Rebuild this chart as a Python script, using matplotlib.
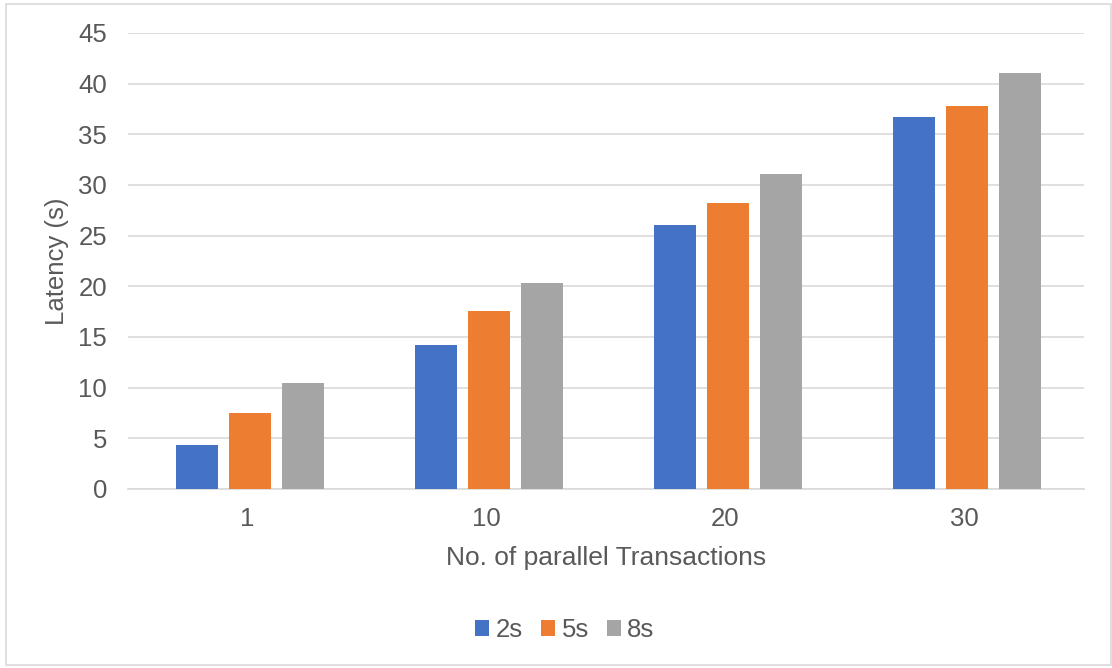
import matplotlib
matplotlib.use("Agg")
import matplotlib.pyplot as plt
from matplotlib.patches import Rectangle
import numpy as np

plt.rcParams['font.family'] = ['Liberation Sans', 'DejaVu Sans']

categories = ["1", "10", "20", "30"]
series_names = ["2s", "5s", "8s"]
latency_2s = [4.3, 14.2, 26.1, 36.7]
latency_5s = [7.5, 17.6, 28.2, 37.8]
latency_8s = [10.5, 20.3, 31.1, 41.1]
colors = ["#4472C4", "#ED7D31", "#A5A5A5"]

text_color = "#595959"
grid_color = "#D9D9D9"
fs = 18.5

fig = plt.figure(figsize=(11.12, 6.68), dpi=100)
ax = fig.add_axes([0.1151, 0.268, 0.8597, 0.6826])

x = np.arange(len(categories))
bar_w = 0.176
step = 0.222
for i, (vals, name, c) in enumerate(zip([latency_2s, latency_5s, latency_8s], series_names, colors)):
    ax.bar(x + (i - 1) * step + 0.01, vals, width=bar_w, color=c, label=name, zorder=3)

ax.set_xlim(-0.5, len(categories) - 0.5)
ax.set_ylim(0, 45)
ax.set_yticks(np.arange(0, 46, 5))
ax.set_xticks(x)
ax.set_xticklabels(categories)
ax.yaxis.grid(True, color=grid_color, linewidth=1.2, zorder=0)
ax.tick_params(axis='both', length=0, labelsize=fs, colors=text_color)
ax.tick_params(axis='y', pad=15)
ax.tick_params(axis='x', pad=13)
for side in ["top", "right", "left"]:
    ax.spines[side].set_visible(False)
ax.spines["bottom"].set_color(grid_color)
ax.spines["bottom"].set_linewidth(1.2)

ax.set_ylabel("Latency (s)", fontsize=fs, color=text_color, labelpad=7)
ax.set_xlabel("No. of parallel Transactions", fontsize=19, color=text_color, labelpad=11)

leg = fig.legend(loc="center", bbox_to_anchor=(0.508, 0.057), ncol=3, frameon=False,
                 fontsize=fs, handlelength=0.55, handleheight=0.55, handletextpad=0.25,
                 columnspacing=0.7)
for t in leg.get_texts():
    t.set_color(text_color)

fig.patches.append(Rectangle((0.005, 0.004), 0.994, 0.99, transform=fig.transFigure,
                             fill=False, edgecolor=grid_color, linewidth=1.2))

fig.savefig("out.png", dpi=100, facecolor="white")
